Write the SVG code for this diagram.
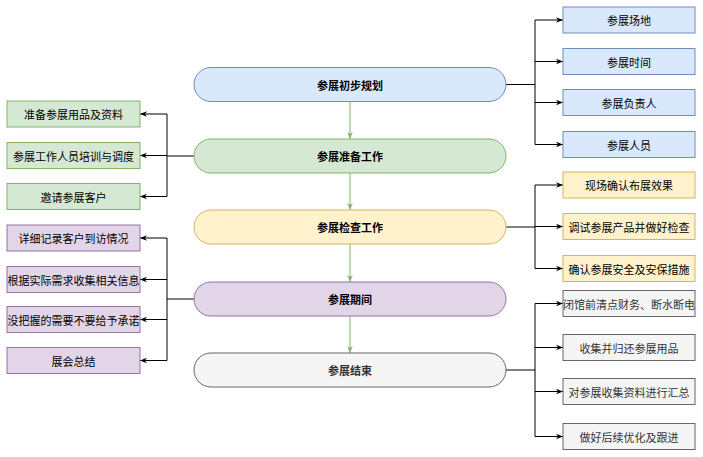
<svg xmlns="http://www.w3.org/2000/svg" width="703" height="457" viewBox="0 0 703 457">
<style>
text{font-family:"Noto Sans CJK SC","Liberation Sans",sans-serif;font-size:11px;text-anchor:middle;dominant-baseline:central;fill:#000}
.b{font-weight:bold}
.blue{fill:#dae8fc;stroke:#6c8ebf}
.green{fill:#d5e8d4;stroke:#82b366}
.yellow{fill:#fff2cc;stroke:#d6b656}
.purple{fill:#e1d5e7;stroke:#9673a6}
.gray{fill:#f5f5f5;stroke:#666666}
.gt{fill:#333333}
.c{fill:none;stroke:#000;stroke-width:1}
.g{fill:none;stroke:#82b366;stroke-width:1}
</style>
<defs>
<marker id="a" viewBox="0 0 10 10" refX="10" refY="5" markerWidth="7" markerHeight="7" markerUnits="userSpaceOnUse" orient="auto"><path d="M0,1 L10,5 L0,9 L3,5 Z" fill="#000"/></marker>
<marker id="ag" viewBox="0 0 10 10" refX="10" refY="5" markerWidth="7" markerHeight="7" markerUnits="userSpaceOnUse" orient="auto"><path d="M0,1 L10,5 L0,9 L3,5 Z" fill="#82b366"/></marker>
</defs>
<g id="connectors">
<path class="g" d="M350,102 V139" marker-end="url(#ag)"/>
<path class="g" d="M350,173 V210" marker-end="url(#ag)"/>
<path class="g" d="M350,244 V282" marker-end="url(#ag)"/>
<path class="g" d="M350,316 V353" marker-end="url(#ag)"/>
<path class="c" d="M506,84.5 H535"/>
<path class="c" d="M535,20 V144.5"/>
<path class="c" d="M535,20 H563" marker-end="url(#a)"/>
<path class="c" d="M535,61.5 H563" marker-end="url(#a)"/>
<path class="c" d="M535,102.5 H563" marker-end="url(#a)"/>
<path class="c" d="M535,144.5 H563" marker-end="url(#a)"/>
<path class="c" d="M194,156 H167"/>
<path class="c" d="M167,114 V196.5"/>
<path class="c" d="M167,114 H140" marker-end="url(#a)"/>
<path class="c" d="M167,155.5 H140" marker-end="url(#a)"/>
<path class="c" d="M167,196.5 H140" marker-end="url(#a)"/>
<path class="c" d="M506,227 H535"/>
<path class="c" d="M535,185 V268.5"/>
<path class="c" d="M535,185 H563" marker-end="url(#a)"/>
<path class="c" d="M535,226.5 H563" marker-end="url(#a)"/>
<path class="c" d="M535,268.5 H563" marker-end="url(#a)"/>
<path class="c" d="M194,299 H167"/>
<path class="c" d="M167,238 V360.5"/>
<path class="c" d="M167,238 H140" marker-end="url(#a)"/>
<path class="c" d="M167,279.5 H140" marker-end="url(#a)"/>
<path class="c" d="M167,319.5 H140" marker-end="url(#a)"/>
<path class="c" d="M167,360.5 H140" marker-end="url(#a)"/>
<path class="c" d="M506,370 H535"/>
<path class="c" d="M535,303.5 V436.5"/>
<path class="c" d="M535,303.5 H563" marker-end="url(#a)"/>
<path class="c" d="M535,347.5 H563" marker-end="url(#a)"/>
<path class="c" d="M535,391.5 H563" marker-end="url(#a)"/>
<path class="c" d="M535,436.5 H563" marker-end="url(#a)"/>
</g>
<g id="n1"><rect class="blue" x="194" y="67.5" width="312" height="34" rx="17"/><text class="b" x="350" y="84.5">参展初步规划</text></g>
<g id="n2"><rect class="green" x="194" y="139" width="312" height="34" rx="17"/><text class="b" x="350" y="156">参展准备工作</text></g>
<g id="n3"><rect class="yellow" x="194" y="210" width="312" height="34" rx="17"/><text class="b" x="350" y="227">参展检查工作</text></g>
<g id="n4"><rect class="purple" x="194" y="282" width="312" height="34" rx="17"/><text class="b" x="350" y="299">参展期间</text></g>
<g id="n5"><rect class="gray" x="194" y="353" width="312" height="34" rx="17"/><text class="b gt" x="350" y="370">参展结束</text></g>
<g id="r1"><rect class="blue" x="563" y="7" width="132" height="26"/><text x="629" y="20">参展场地</text></g>
<g id="r2"><rect class="blue" x="563" y="48.5" width="132" height="26"/><text x="629" y="61.5">参展时间</text></g>
<g id="r3"><rect class="blue" x="563" y="89.5" width="132" height="26"/><text x="629" y="102.5">参展负责人</text></g>
<g id="r4"><rect class="blue" x="563" y="131.5" width="132" height="26"/><text x="629" y="144.5">参展人员</text></g>
<g id="l1"><rect class="green" x="7" y="101" width="133" height="26"/><text x="73.5" y="114">准备参展用品及资料</text></g>
<g id="l2"><rect class="green" x="7" y="142.5" width="133" height="26"/><text x="73.5" y="155.5">参展工作人员培训与调度</text></g>
<g id="l3"><rect class="green" x="7" y="183.5" width="133" height="26"/><text x="73.5" y="196.5">邀请参展客户</text></g>
<g id="y1"><rect class="yellow" x="563" y="172" width="132" height="26"/><text x="629" y="185">现场确认布展效果</text></g>
<g id="y2"><rect class="yellow" x="563" y="213.5" width="132" height="26"/><text x="629" y="226.5">调试参展产品并做好检查</text></g>
<g id="y3"><rect class="yellow" x="563" y="255.5" width="132" height="26"/><text x="629" y="268.5">确认参展安全及安保措施</text></g>
<g id="p1"><rect class="purple" x="7" y="225" width="133" height="26"/><text x="73.5" y="238">详细记录客户到访情况</text></g>
<g id="p2"><rect class="purple" x="7" y="266.5" width="133" height="26"/><text x="73.5" y="279.5">根据实际需求收集相关信息</text></g>
<g id="p3"><rect class="purple" x="7" y="306.5" width="133" height="26"/><text x="73.5" y="319.5">没把握的需要不要给予承诺</text></g>
<g id="p4"><rect class="purple" x="7" y="347.5" width="133" height="26"/><text x="73.5" y="360.5">展会总结</text></g>
<g id="g1"><rect class="gray" x="563" y="290.5" width="132" height="26"/><text class="gt" x="629" y="303.5">闭馆前清点财务、断水断电</text></g>
<g id="g2"><rect class="gray" x="563" y="334.5" width="132" height="26"/><text class="gt" x="629" y="347.5">收集并归还参展用品</text></g>
<g id="g3"><rect class="gray" x="563" y="378.5" width="132" height="26"/><text class="gt" x="629" y="391.5">对参展收集资料进行汇总</text></g>
<g id="g4"><rect class="gray" x="563" y="423.5" width="132" height="26"/><text class="gt" x="629" y="436.5">做好后续优化及跟进</text></g>
</svg>
